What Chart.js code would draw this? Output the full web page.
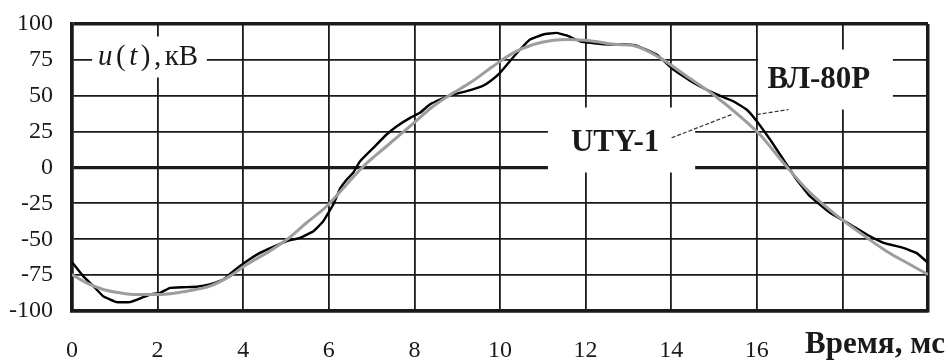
<!DOCTYPE html>
<html>
<head>
<meta charset="utf-8">
<script src="https://cdn.jsdelivr.net/npm/chart.js@4/dist/chart.umd.min.js"></script>
<style>
html, body { margin: 0; padding: 0; background: #fff; }
#chartContainer { width: 948px; height: 361px; }
</style>
</head>
<body>
<div id="chartContainer"><canvas id="voltageChart"></canvas></div>
<script>
// measured curve, locomotive VL-80R
const TIME_VL80R = [0, 0.26, 0.5, 0.73, 1.04, 1.36, 1.63, 1.82, 2.06, 2.29, 2.6, 2.91, 3.22, 3.54, 3.77,
    4.08, 4.39, 4.7, 5.02, 5.33, 5.64, 5.87, 6.1, 6.26, 6.42, 6.57, 6.73, 7.04, 7.35, 7.59, 7.9, 8.13,
    8.36, 8.6, 8.91, 9.22, 9.61, 9.77, 10.0, 10.23, 10.47, 10.7, 11.01, 11.32, 11.56, 11.87, 12.26,
    12.57, 12.9, 13.19, 13.66, 14.05, 14.52, 14.98, 15.45, 15.76, 16.0, 16.31, 16.62, 16.93, 17.24,
    17.71, 18.18, 18.57, 18.96, 19.42, 19.73, 20];
const VOLT_VL80R = [-66, -75.7, -82.7, -89.7, -93.8, -93.8, -90.8, -88.5, -87.3, -83.9, -83.4, -83.1, -81.5, -78, -72.2,
    -65.3, -59.5, -55.3, -51.3, -49, -44.4, -37.4, -26, -15, -8.4, -3.7, 4.4, 13.7, 23, 28.8, 34.6, 38.1,
    43.9, 47.4, 50.9, 53.2, 57.1, 60.1, 66, 74.1, 82.2, 89.2, 92.7, 93.8, 92, 88, 86.4,
    85.7, 86, 85, 78.7, 68.3, 59, 52, 46.2, 40.4, 32.3, 19.5, 5.6, -8.4, -20,
    -31.6, -39.7, -46.7, -52.5, -56, -59.5, -66.4];

// simulated curve, UTY-1
const TIME_UTY1 = [0, 0.34, 0.73, 1.12, 1.51, 2.06, 2.68, 3.22, 3.69, 4.08, 4.55, 5.02, 5.48, 5.95, 6.42,
    6.81, 7.35, 7.9, 8.44, 8.91, 9.3, 9.84, 10.31, 10.78, 11.25, 11.64, 12.18, 12.73, 13.11, 13.74,
    14.36, 14.98, 15.61, 16.07, 16.62, 17.17, 17.79, 18.41, 19.03, 19.58, 20];
const VOLT_UTY1 = [-74.6, -80.4, -85, -87.3, -88.5, -88.5, -86.2, -82.7, -75.7, -67.6, -59.5, -50.2, -38.5, -27, -11.7,
    0.9, 14.8, 28.8, 42.7, 52, 59, 70.6, 79.9, 85.7, 88.7, 89.2, 88, 85.7, 85, 76.4,
    63.6, 50.9, 35.7, 23, 3.3, -15.3, -31.6, -45.5, -58.3, -67.6, -74.6];

const SERIES_NAMES = ["ВЛ-80Р", "UTY-1"];
const X_TICK_VALUES = [0, 2, 4, 6, 8, 10, 12, 14, 16, 18, 20];
const X_TICK_LABELS = ["0", "2", "4", "6", "8", "10", "12", "14", "16", "", ""];
const Y_TICK_VALUES = [-100, -75, -50, -25, 0, 25, 50, 75, 100];
const X_AXIS_TITLE = "Время, мс";
const Y_AXIS_TITLE = [["u", true], ["(", false], ["t", true], [")", false], [",", false], ["кВ", false]];

// leader lines from the labels to the curves
const LEADER_UTY1_X = [14.01, 15.41];
const LEADER_UTY1_Y = [20.7, 36.9];
const LEADER_VL80R_X = [16.0, 16.74];
const LEADER_VL80R_Y = [36.9, 40.4];

const SERIF = "'Liberation Serif', 'Times New Roman', serif";
const INK = "#1a1a1a";

// white boxes behind the labels (data units) and label anchors
const NOTES = [
    {"box": [0.47, 3.15, 91.3, 62.7], "at": [1.82, 76.7], "kind": "axis"},
    {"box": [11.12, 14.56, 41.8, -3.5], "at": [12.69, 17.4], "text": SERIES_NAMES[1]},
    {"box": [16.03, 19.18, 82.2, 40.4], "at": [17.45, 61.3], "text": SERIES_NAMES[0]}
];


class VoltageChartPresenter {

    constructor(canvasId) {
        const self = this;
        self._canvasId = canvasId;
    }

    render() {
        const self = this;
        new Chart(document.getElementById(self._canvasId), self._getConfig());
    }

    _toPoints(xs, ys) {
        return xs.map((x, i) => ({"x": x, "y": ys[i]}));
    }

    _getData() {
        const self = this;
        const leaderStyle = {
            borderColor: "#333",
            borderWidth: 1.2,
            borderDash: [4, 2],
            pointRadius: 0,
            tension: 0
        };
        return {
            "datasets": [
                {
                    label: SERIES_NAMES[1],
                    data: self._toPoints(TIME_UTY1, VOLT_UTY1),
                    borderColor: "#9d9d9d",
                    borderWidth: 3,
                    pointRadius: 0,
                    cubicInterpolationMode: "monotone"
                },
                {
                    label: SERIES_NAMES[0],
                    data: self._toPoints(TIME_VL80R, VOLT_VL80R),
                    borderColor: "#000",
                    borderWidth: 2.4,
                    pointRadius: 0,
                    tension: 0.1
                },
                Object.assign({label: "leader1", data: self._toPoints(LEADER_UTY1_X, LEADER_UTY1_Y)}, leaderStyle),
                Object.assign({label: "leader2", data: self._toPoints(LEADER_VL80R_X, LEADER_VL80R_Y)}, leaderStyle)
            ]
        };
    }

    _getConfig() {
        const self = this;
        return {
            type: "line",
            data: self._getData(),
            options: {
                responsive: true,
                maintainAspectRatio: false,
                animation: false,
                layout: {padding: {left: 0, right: 20, top: 24, bottom: 0}},
                plugins: {legend: {display: false}, tooltip: {enabled: false}},
                scales: {
                    x: {
                        type: "linear",
                        min: 0,
                        max: 20,
                        afterFit: (scale) => {
                            scale.height = 50;
                            scale.paddingLeft = 0;
                            scale.paddingRight = 0;
                        },
                        afterBuildTicks: (scale) => {
                            scale.ticks = X_TICK_VALUES.map((v) => ({"value": v}));
                        },
                        border: {display: true, color: INK, width: 3.5},
                        grid: {
                            color: INK,
                            drawTicks: false,
                            lineWidth: (c) => (c.tick && (c.tick.value === 0 || c.tick.value === 20)) ? 3.5 : 1.8
                        },
                        ticks: {
                            padding: 25,
                            color: INK,
                            font: {family: SERIF, size: 24},
                            maxRotation: 0,
                            autoSkip: false,
                            callback: (value) => X_TICK_LABELS[X_TICK_VALUES.indexOf(value)]
                        }
                    },
                    y: {
                        min: -100,
                        max: 100,
                        afterFit: (scale) => {
                            // tick padding would otherwise push the plot down
                            scale.width = 72;
                            scale.paddingTop = 0;
                            scale.paddingBottom = 0;
                        },
                        afterBuildTicks: (scale) => {
                            scale.ticks = Y_TICK_VALUES.map((v) => ({"value": v}));
                        },
                        border: {display: true, color: INK, width: 3.5},
                        grid: {
                            color: INK,
                            drawTicks: false,
                            lineWidth: (c) => {
                                if (!c.tick) return 1.8;
                                if (Math.abs(c.tick.value) === 100) return 3.5;
                                return c.tick.value === 0 ? 3.2 : 1.8;
                            }
                        },
                        ticks: {
                            padding: 19,
                            color: INK,
                            font: {family: SERIF, size: 24}
                        }
                    }
                }
            },
            plugins: [self._notesPlugin()]
        };
    }

    _drawAxisTitle(ctx, cx, cy) {
        ctx.textBaseline = "middle";
        ctx.textAlign = "left";
        const gap = 3.5;
        const fontFor = (italic) => (italic ? "italic " : "") + "29px " + SERIF;
        let total = 0;
        Y_AXIS_TITLE.forEach(([t, italic]) => {
            ctx.font = fontFor(italic);
            total += ctx.measureText(t).width + gap;
        });
        let x = cx - total / 2;
        Y_AXIS_TITLE.forEach(([t, italic]) => {
            ctx.font = fontFor(italic);
            ctx.fillText(t, x, cy);
            x += ctx.measureText(t).width + gap;
        });
    }

    _notesPlugin() {
        const self = this;
        return {
            id: "notes",
            beforeDatasetsDraw(chart) {
                const ctx = chart.ctx;
                const xs = chart.scales.x;
                const ys = chart.scales.y;
                ctx.save();
                ctx.fillStyle = "#fff";
                NOTES.forEach((n) => {
                    const x0 = xs.getPixelForValue(n.box[0]);
                    const x1 = xs.getPixelForValue(n.box[1]);
                    const y0 = ys.getPixelForValue(n.box[2]);
                    const y1 = ys.getPixelForValue(n.box[3]);
                    ctx.fillRect(x0, y0, x1 - x0, y1 - y0);
                });
                ctx.restore();
            },
            afterDatasetsDraw(chart) {
                const ctx = chart.ctx;
                const xs = chart.scales.x;
                const ys = chart.scales.y;
                ctx.save();
                ctx.fillStyle = INK;
                NOTES.forEach((n) => {
                    const cx = xs.getPixelForValue(n.at[0]);
                    const cy = ys.getPixelForValue(n.at[1]);
                    if (n.kind === "axis") {
                        self._drawAxisTitle(ctx, cx, cy);
                        return;
                    }
                    ctx.font = "bold 31px " + SERIF;
                    ctx.textAlign = "center";
                    ctx.textBaseline = "middle";
                    ctx.fillText(n.text, cx, cy);
                });
                ctx.font = "bold 31px " + SERIF;
                ctx.textAlign = "right";
                ctx.textBaseline = "middle";
                ctx.fillText(X_AXIS_TITLE, chart.width - 3, 345);
                ctx.restore();
            }
        };
    }

}

new VoltageChartPresenter("voltageChart").render();
</script>
</body>
</html>
